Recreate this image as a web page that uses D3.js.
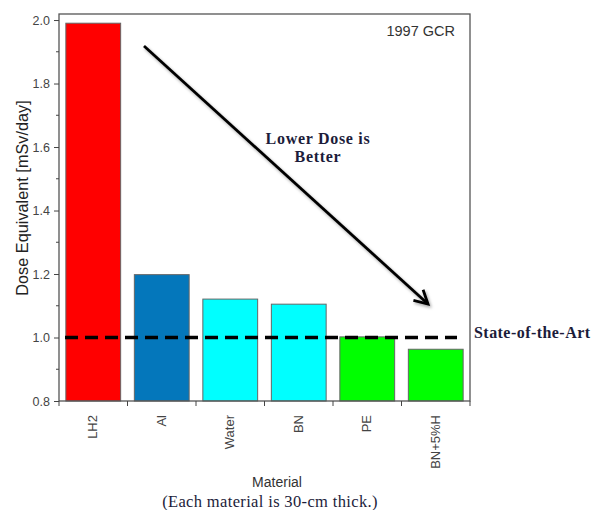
<!DOCTYPE html>
<html><head><meta charset="utf-8">
<script src="https://cdn.jsdelivr.net/npm/d3@7"></script>
<style>body{margin:0;background:#fff}svg{display:block}</style>
</head><body>
<svg id="c" width="593" height="510"></svg>
<script>
const categories = ["LH2","Al","Water","BN","PE","BN+5%H"];
const doseValues = [1.99, 1.198, 1.121, 1.105, 1.002, 0.963];
const barColors = ["#ff0000","#0477bb","#00ffff","#00ffff","#00ff00","#00ff00"];
const yTicks = [0.8,1.0,1.2,1.4,1.6,1.8,2.0];
const stateOfArt = 1.0;

const svg = d3.select("#c");
const L=59, R=470, T=14, B=401;
const x = d3.scaleBand().domain(categories).range([L,R]).paddingInner(0.2).paddingOuter(0.1);
const y = d3.scaleLinear().domain([0.8,2.019]).range([B,T]);

const defs = svg.append("defs");
const f = defs.append("filter").attr("id","sh").attr("x","-20%").attr("y","-20%").attr("width","140%").attr("height","140%");
f.append("feDropShadow").attr("dx",1.5).attr("dy",2).attr("stdDeviation",1.5).attr("flood-color","#000").attr("flood-opacity",0.35);

// bars
svg.selectAll("rect.bar").data(categories).enter().append("rect")
  .attr("x",d=>x(d)).attr("width",x.bandwidth())
  .attr("y",(d,i)=>y(doseValues[i])).attr("height",(d,i)=>B-y(doseValues[i]))
  .attr("fill",(d,i)=>barColors[i]).attr("stroke","#666").attr("stroke-width",1);

// frame
svg.append("rect").attr("x",L).attr("y",T).attr("width",R-L).attr("height",B-T)
  .attr("fill","none").attr("stroke","#555").attr("stroke-width",1.3);

// y axis
const minor = d3.range(0.9,2.0,0.2);
const yAx = svg.append("g").attr("transform",`translate(${L},0)`)
  .call(d3.axisLeft(y).tickValues(yTicks).tickFormat(d3.format(".1f")).tickSize(5).tickSizeOuter(0));
yAx.select(".domain").remove();
yAx.selectAll("line").attr("stroke","#444");
yAx.selectAll("text").attr("font-family","Liberation Sans, Arial").attr("font-size",12.5).attr("fill","#444").attr("dx",-1);
svg.append("g").selectAll("line").data(minor).enter().append("line")
  .attr("x1",L-3).attr("x2",L).attr("y1",d=>y(d)).attr("y2",d=>y(d)).attr("stroke","#444");

// x axis boundary ticks
const bounds = d3.range(0,categories.length+1).map(i=>L+i*(R-L)/categories.length);
svg.append("g").selectAll("line").data(bounds).enter().append("line")
  .attr("x1",d=>d).attr("x2",d=>d).attr("y1",B).attr("y2",B+5).attr("stroke","#444");
svg.append("g").selectAll("text").data(categories).enter().append("text")
  .attr("transform",d=>`translate(${x(d)+x.bandwidth()/2+4},${B+14}) rotate(-90)`)
  .attr("text-anchor","end").attr("font-family","Liberation Sans, Arial").attr("font-size",13).attr("fill","#444")
  .text(d=>d);

// dashed line
svg.append("line").attr("x1",65).attr("x2",457).attr("y1",y(stateOfArt)).attr("y2",y(stateOfArt))
  .attr("stroke","#000").attr("stroke-width",3.5).attr("stroke-dasharray","13,7");

// arrow
const ax1=144, ay1=46, ax2=428, ay2=304;
const ag = svg.append("g").attr("filter","url(#sh)");
ag.append("line").attr("x1",ax1).attr("y1",ay1).attr("x2",ax2).attr("y2",ay2).attr("stroke","#000").attr("stroke-width",2.8);
const ang = Math.atan2(ay2-ay1, ax2-ax1);
const hl=15, ha=0.5;
ag.append("path").attr("d",`M${ax2-hl*Math.cos(ang-ha)},${ay2-hl*Math.sin(ang-ha)} L${ax2},${ay2} L${ax2-hl*Math.cos(ang+ha)},${ay2-hl*Math.sin(ang+ha)}`)
  .attr("fill","none").attr("stroke","#000").attr("stroke-width",2.8).attr("stroke-linejoin","miter");

// texts
const serif = "Liberation Serif, Times New Roman, serif";
svg.append("text").attr("x",318).attr("y",144).attr("text-anchor","middle").attr("font-family",serif).attr("font-weight","bold").attr("font-size",16).attr("letter-spacing",0.7).attr("fill","#1c1c3a").text("Lower Dose is");
svg.append("text").attr("x",318).attr("y",162).attr("text-anchor","middle").attr("font-family",serif).attr("font-weight","bold").attr("font-size",16).attr("letter-spacing",0.7).attr("fill","#1c1c3a").text("Better");
svg.append("text").attr("x",474).attr("y",338).attr("font-family",serif).attr("font-weight","bold").attr("font-size",16).attr("letter-spacing",0.45).attr("fill","#1c1c3a").text("State-of-the-Art");
svg.append("text").attr("x",455).attr("y",36).attr("text-anchor","end").attr("font-family","Liberation Sans, Arial").attr("font-size",14.5).attr("fill","#333").text("1997 GCR");
svg.append("text").attr("transform","translate(28,198) rotate(-90)").attr("text-anchor","middle").attr("font-family","Liberation Sans, Arial").attr("font-size",16.3).attr("fill","#222").text("Dose Equivalent [mSv/day]");
svg.append("text").attr("x",277).attr("y",487).attr("text-anchor","middle").attr("font-family","Liberation Sans, Arial").attr("font-size",14).attr("fill","#333").text("Material");
svg.append("text").attr("x",270).attr("y",507).attr("text-anchor","middle").attr("font-family",serif).attr("font-size",16.5).attr("letter-spacing",0.35).attr("fill","#1c1c3a").text("(Each material is 30-cm thick.)");
</script>
</body></html>
